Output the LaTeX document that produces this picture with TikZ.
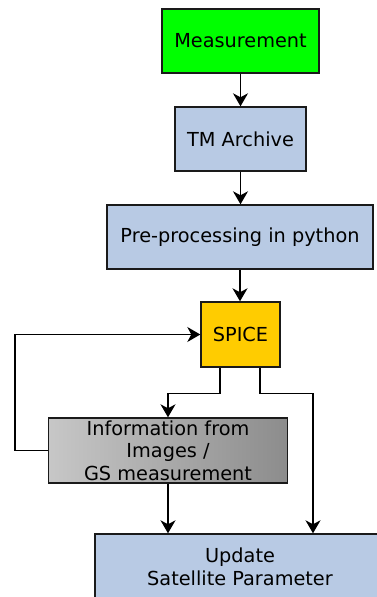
\documentclass[tikz,border=0pt]{standalone}
\usepackage{fontspec}
\setmainfont{DejaVu Sans}
\usetikzlibrary{arrows.meta}
\definecolor{bluebox}{HTML}{B8CAE4}
\definecolor{greenbox}{HTML}{00FF00}
\definecolor{yellowbox}{HTML}{FFCC00}
\definecolor{edge}{HTML}{1A1A1A}
\tikzset{
  box/.style={draw=edge, line width=1.4pt, inner sep=0pt, align=center,
    font=\fontsize{19.3}{22.5}\selectfont},
  arr/.style={draw=black, line width=1.4pt,
    -{Stealth[length=13pt, width=15pt, inset=4pt]}},
}
\begin{document}
\begin{tikzpicture}[x=1pt,y=-1pt]
\useasboundingbox (0,0) rectangle (377,597);
\clip (0,0) rectangle (377,597);
\fill[white] (0,0) rectangle (377,597);
\node[box, fill=greenbox, minimum width=157pt, minimum height=64pt] (meas) at (240.5,41) {Measurement};
\node[box, fill=bluebox, minimum width=131pt, minimum height=64pt] (tm) at (240.5,139) {TM Archive};
\node[box, fill=bluebox, minimum width=266pt, minimum height=64pt] (pre) at (240,237) {Pre-processing in python};
\node[box, fill=yellowbox, minimum width=79pt, minimum height=65pt] (spice) at (240.5,334.5) {SPICE};
\node[box, left color=black!22, right color=black!45, minimum width=239pt, minimum height=65pt] (info) at (168,450.5) {Information from\\Images /\\GS measurement};
\node[box, fill=bluebox, minimum width=290pt, minimum height=66pt] (upd) at (240,567) {Update\\Satellite Parameter};
\draw[arr] (meas) -- (tm);
\draw[arr] (tm) -- (tm |- pre.north);
\draw[arr] (pre.south) -- (pre.south |- spice.north);
\draw[arr] ([xshift=-20.5pt]spice.south) -- ++(0,26) -| (info.north);
\draw[arr] ([xshift=19.5pt]spice.south) -- ++(0,26) -| ([xshift=73pt]upd.north);
\draw[arr] (info.south) -- (info.south |- upd.north);
\draw[arr] (info.west) -- ++(-33,0) |- (spice.west);
\end{tikzpicture}
\end{document}
